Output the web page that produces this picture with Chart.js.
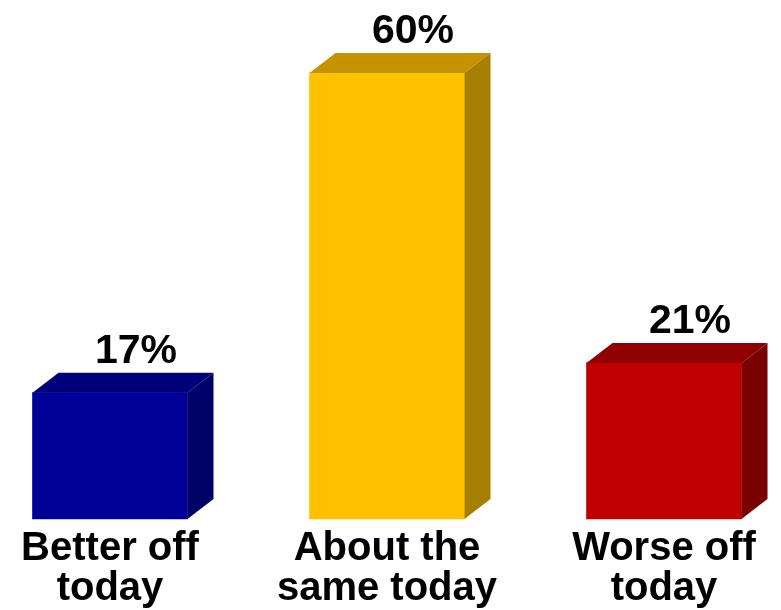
<!DOCTYPE html>
<html>
<head>
<meta charset="utf-8">
<title>Better or worse off today</title>
<script src="https://cdn.jsdelivr.net/npm/chart.js@4.4.1/dist/chart.umd.min.js"></script>
<style>
  html, body { margin: 0; padding: 0; background: #fff; }
  #wrap { width: 781px; height: 610px; }
</style>
</head>
<body>
<div id="wrap"><canvas id="barChart" width="781" height="610"></canvas></div>
<script>
// data
const categories = [['Better off', 'today'], ['About the', 'same today'], ['Worse off', 'today']];
const shares = [17, 60, 21];

// face colours: front / top / side
const frontColors = ['#000099', '#FFC000', '#C00000'];
const topColors = ['#00007A', '#C49400', '#900000'];
const sideColors = ['#000066', '#A67F00', '#7A0000'];

const FONT = '"Liberation Sans", Arial, sans-serif';
const DEPTH_X = 26;
const DEPTH_Y = 20;

// draws the top and side faces plus the value on each bar
const box3d = {
    id: 'box3d',
    afterDatasetsDraw(chart) {
        const ctx = chart.ctx;
        const meta = chart.getDatasetMeta(0);
        ctx.save();
        meta.data.forEach((bar, i) => {
            const l = bar.x - bar.width / 2;
            const r = bar.x + bar.width / 2;
            const t = bar.y;
            const b = bar.base;

            ctx.fillStyle = topColors[i];
            ctx.beginPath();
            ctx.moveTo(l, t);
            ctx.lineTo(l + DEPTH_X, t - DEPTH_Y);
            ctx.lineTo(r + DEPTH_X, t - DEPTH_Y);
            ctx.lineTo(r, t);
            ctx.closePath();
            ctx.fill();

            ctx.fillStyle = sideColors[i];
            ctx.beginPath();
            ctx.moveTo(r, t);
            ctx.lineTo(r + DEPTH_X, t - DEPTH_Y);
            ctx.lineTo(r + DEPTH_X, b - DEPTH_Y);
            ctx.lineTo(r, b);
            ctx.closePath();
            ctx.fill();

            ctx.fillStyle = '#000';
            ctx.font = 'bold 41px ' + FONT;
            ctx.textAlign = 'center';
            ctx.textBaseline = 'alphabetic';
            ctx.fillText(shares[i] + '%', bar.x + DEPTH_X, t - DEPTH_Y - 10);
        });
        ctx.restore();
    }
};

new Chart(document.getElementById('barChart'), {
    type: 'bar',
    data: {
        labels: categories,
        datasets: [{
            data: shares,
            backgroundColor: frontColors,
            borderWidth: 0,
            barThickness: 155,
            clip: false
        }]
    },
    options: {
        responsive: false,
        devicePixelRatio: 1,
        animation: false,
        layout: { padding: { top: 73, left: 110, right: 117, bottom: 0 } },
        plugins: { legend: { display: false }, tooltip: { enabled: false } },
        scales: {
            x: {
                offset: false,
                grid: { display: false, drawTicks: false },
                border: { display: false },
                ticks: {
                    color: '#000',
                    padding: 10,
                    maxRotation: 0,
                    autoSkip: false,
                    font: { family: FONT, size: 40, weight: 'bold', lineHeight: 1.0 }
                },
                afterFit(scale) { scale.height = 91; }
            },
            y: {
                display: false,
                min: 0,
                max: 60
            }
        }
    },
    plugins: [box3d]
});
</script>
</body>
</html>
